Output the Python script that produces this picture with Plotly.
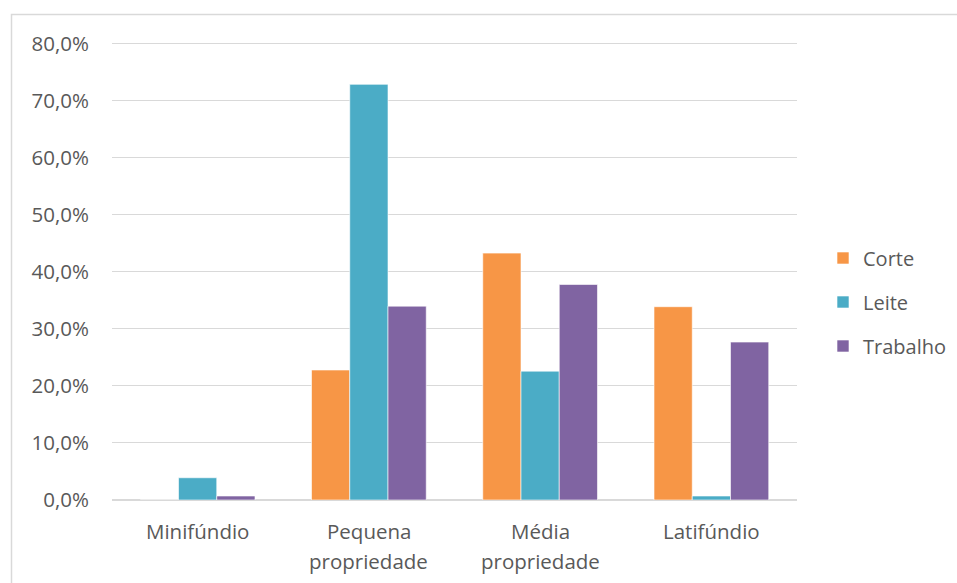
import plotly.graph_objects as go

# Share of each property size class, by activity
categories = ["Minifúndio", "Pequena propriedade", "Média propriedade", "Latifúndio"]
corte = [0.0, 22.8, 43.3, 33.9]
leite = [3.9, 72.9, 22.6, 0.7]
trabalho = [0.7, 34.0, 37.8, 27.7]

y_ticks = [0, 10, 20, 30, 40, 50, 60, 70, 80]
y_tick_labels = ["0,0%", "10,0%", "20,0%", "30,0%", "40,0%", "50,0%", "60,0%", "70,0%", "80,0%"]

series = [
    ("Corte", corte, "#F79646"),
    ("Leite", leite, "#4BACC6"),
    ("Trabalho", trabalho, "#8064A2"),
]

FONT = "Open Sans"
TEXT_COLOR = "#595959"
GRID = "#D9D9D9"
FS = 20.5
Y_MAX = 80.5

fig = go.Figure()
for name, values, color in series:
    fig.add_trace(go.Bar(
        name=name,
        x=categories,
        y=values,
        marker=dict(color=color, line=dict(color="rgba(255,255,255,0.6)", width=1)),
        legendgroup=name,
    ))

# Category labels, wrapped onto two lines with generous spacing
for cat in categories:
    parts = cat.split(" ", 1)
    for i, part in enumerate(parts):
        fig.add_annotation(
            x=cat, xref="x", y=0, yref="paper",
            text=part, showarrow=False,
            yanchor="middle", yshift=-31 - 30 * i,
            font=dict(family=FONT, size=FS, color=TEXT_COLOR),
        )

# Layout geometry in pixels
W, H = 957, 583
L, R, T, B = 112, 160, 41, 83
pw, ph = W - L - R, H - T - B


def px_to_paper_x(px):
    return (px - L) / pw


def px_to_paper_y(py):
    return (H - B - py) / ph


# Light chart-area frame
fig.add_shape(
    type="rect", xref="paper", yref="paper",
    x0=px_to_paper_x(11.5), x1=px_to_paper_x(990),
    y0=px_to_paper_y(620), y1=px_to_paper_y(14.5),
    line=dict(color=GRID, width=1.5), fillcolor="rgba(0,0,0,0)", layer="below",
)

fig.update_layout(
    width=W, height=H,
    margin=dict(l=L, r=R, t=T, b=B, autoexpand=False),
    paper_bgcolor="white", plot_bgcolor="white",
    barmode="group", bargap=0.33, bargroupgap=0,
    font=dict(family=FONT, size=FS, color=TEXT_COLOR),
    showlegend=True,
    legend=dict(
        x=px_to_paper_x(823), xanchor="left",
        y=px_to_paper_y(302), yanchor="middle",
        font=dict(family=FONT, size=20, color=TEXT_COLOR),
        tracegroupgap=15, itemwidth=30,
        bgcolor="rgba(0,0,0,0)",
    ),
    xaxis=dict(showticklabels=False, showgrid=False, zeroline=False,
               showline=False, ticks=""),
    yaxis=dict(
        range=[0, Y_MAX], tickvals=y_ticks, ticktext=y_tick_labels,
        showgrid=True, gridcolor=GRID, gridwidth=1.3,
        zeroline=True, zerolinecolor=GRID, zerolinewidth=1.5,
        showline=False, ticks="", ticklabelstandoff=22,
        tickfont=dict(family=FONT, size=FS, color=TEXT_COLOR),
    ),
)

fig.write_html("out.html")
